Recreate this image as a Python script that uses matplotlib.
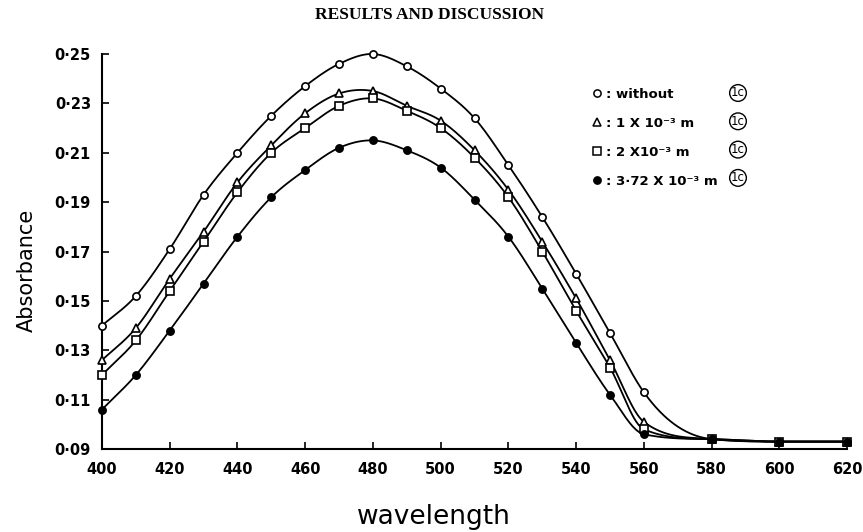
import numpy as np
import matplotlib
matplotlib.use("Agg")
import matplotlib.pyplot as plt
from matplotlib.lines import Line2D

# datos
wavelength = [400, 410, 420, 430, 440, 450, 460, 470, 480, 490, 500,
              510, 520, 530, 540, 550, 560, 580, 600, 620]
without = [0.140, 0.152, 0.171, 0.193, 0.210, 0.225, 0.237, 0.246, 0.250, 0.245,
           0.236, 0.224, 0.205, 0.184, 0.161, 0.137, 0.113, 0.094, 0.093, 0.093]
conc_1 = [0.126, 0.139, 0.159, 0.178, 0.198, 0.213, 0.226, 0.234, 0.235, 0.229,
          0.223, 0.211, 0.195, 0.174, 0.151, 0.126, 0.101, 0.094, 0.093, 0.093]
conc_2 = [0.120, 0.134, 0.154, 0.174, 0.194, 0.210, 0.220, 0.229, 0.232, 0.227,
          0.220, 0.208, 0.192, 0.170, 0.146, 0.123, 0.098, 0.094, 0.093, 0.093]
conc_372 = [0.106, 0.120, 0.138, 0.157, 0.176, 0.192, 0.203, 0.212, 0.215, 0.211,
            0.204, 0.191, 0.176, 0.155, 0.133, 0.112, 0.096, 0.094, 0.093, 0.093]

xticks = [400, 420, 440, 460, 480, 500, 520, 540, 560, 580, 600, 620]
yticks = [0.09, 0.11, 0.13, 0.15, 0.17, 0.19, 0.21, 0.23, 0.25]
ytick_labels = ["0·09", "0·11", "0·13", "0·15", "0·17", "0·19", "0·21", "0·23", "0·25"]

labels = [": without", ": 1 X 10⁻³ m", ": 2 X10⁻³ m", ": 3·72 X 10⁻³ m"]


def suave(x, y, xs):
    # spline tipo Catmull-Rom, limitada solo donde la curva es monotona
    x = np.asarray(x, float)
    y = np.asarray(y, float)
    h = np.diff(x)
    d = np.diff(y) / h
    m = np.zeros_like(y)
    m[0] = d[0]
    m[-1] = d[-1]
    for k in range(1, len(x) - 1):
        m[k] = (h[k] * d[k - 1] + h[k - 1] * d[k]) / (h[k - 1] + h[k])
    for k in range(len(d)):
        if d[k] == 0:
            m[k] = 0
            m[k + 1] = 0
            continue
        a = m[k] / d[k]
        b = m[k + 1] / d[k]
        if a > 0 and b > 0 and a * a + b * b > 9:
            tau = 3 / np.sqrt(a * a + b * b)
            m[k] = tau * a * d[k]
            m[k + 1] = tau * b * d[k]
    idx = np.clip(np.searchsorted(x, xs) - 1, 0, len(x) - 2)
    t = (xs - x[idx]) / h[idx]
    h00 = 2 * t**3 - 3 * t**2 + 1
    h10 = t**3 - 2 * t**2 + t
    h01 = -2 * t**3 + 3 * t**2
    h11 = t**3 - t**2
    return (h00 * y[idx] + h10 * h[idx] * m[idx]
            + h01 * y[idx + 1] + h11 * h[idx] * m[idx + 1])


fig = plt.figure(figsize=(8.63, 5.32), dpi=100)
ax = fig.add_axes([0.1182, 0.156, 0.8633, 0.7425])

series = [
    (without, dict(marker="o", markersize=5.2, markerfacecolor="white")),
    (conc_1, dict(marker="^", markersize=5.5, markerfacecolor="white")),
    (conc_2, dict(marker="s", markersize=5.5, markerfacecolor="white")),
    (conc_372, dict(marker="o", markersize=5.2, markerfacecolor="black")),
]

xs = np.linspace(400, 620, 800)
handles = []
for vals, st in series:
    ax.plot(xs, suave(wavelength, vals, xs), color="black", lw=1.3, clip_on=False)
    ax.plot(wavelength, vals, linestyle="none", color="black",
            markeredgewidth=1.2, clip_on=False, zorder=3, **st)
    handles.append(Line2D([], [], linestyle="none", color="black",
                          markeredgewidth=1.1, **st))

ax.set_xlim(400, 620)
ax.set_ylim(0.09, 0.25)
ax.set_xticks(xticks)
ax.set_xticklabels([str(v) for v in xticks], fontsize=10.5, fontweight="bold")
ax.set_yticks(yticks)
ax.set_yticklabels(ytick_labels, fontsize=10.5, fontweight="bold")
ax.tick_params(direction="in", length=5, width=1.2)
ax.tick_params(axis="x", pad=9)
ax.tick_params(axis="y", pad=8)
for s in ["top", "right"]:
    ax.spines[s].set_visible(False)
for s in ["left", "bottom"]:
    ax.spines[s].set_linewidth(1.5)

leg = ax.legend(handles, labels, loc="upper left",
                bbox_to_anchor=(585 / 863, 1 - 81 / 532),
                bbox_transform=fig.transFigure, frameon=False,
                borderpad=0, handlelength=0.8, handletextpad=0.3,
                labelspacing=1.22, prop={"size": 9.5, "weight": "bold"})

for i in range(len(labels)):
    fig.text(738 / 863, 1 - (93 + 28.3 * i) / 532, "1c", fontsize=8.5,
             ha="center", va="center",
             bbox=dict(boxstyle="circle,pad=0.12", fc="white", ec="black", lw=1.0))

fig.text(430 / 863, 1 - 15 / 532, "RESULTS AND DISCUSSION", ha="center", va="center",
         fontsize=12.5, fontweight="bold", family="Liberation Serif")
fig.text(27 / 863, 1 - 270 / 532, "Absorbance", rotation=90, ha="center",
         va="center", fontsize=15)
fig.text(434 / 863, 1 - 517 / 532, "wavelength", ha="center", va="center",
         fontsize=19)

fig.savefig("out.png", dpi=100)
